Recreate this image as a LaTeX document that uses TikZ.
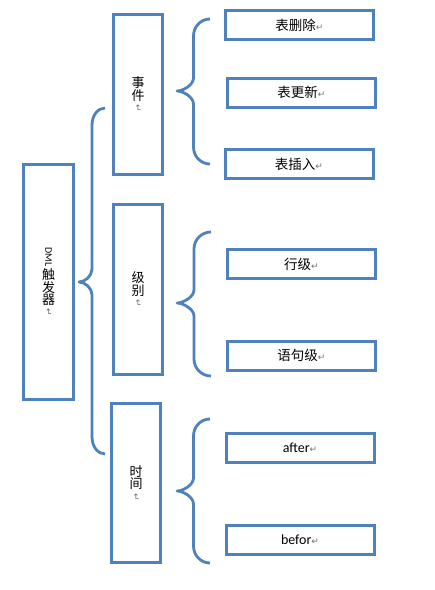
\documentclass[tikz,border=0pt]{standalone}
\usepackage{fontspec}
\usepackage{graphicx}
\setmainfont{Carlito}
\newfontfamily\cjk{Noto Sans CJK SC}
\newfontfamily\symfont{DejaVu Sans}
\usetikzlibrary{positioning, calc}

\definecolor{wordblue}{HTML}{4F81BD}
\newcommand{\parmark}{{\symfont\color{black!55}\fontsize{9}{9}\selectfont ↵}}
\newcommand{\vparmark}{\rotatebox{-90}{\parmark}}
% geschweifte Klammer im Word-Stil: oberes Ende, Spitze, unteres Ende
\newcommand{\wordbrace}[3]{%
    \draw[brace_line] let \p1=(#1), \p2=(#2), \p3=(#3),
        \n1={(\x1+\x2)/2}, \n2={(\x1-\x2)/2} in
        (\p1) .. controls ({\x1-0.55*\n2},\y1) and ({\n1},{\y1-7.5pt}) .. ({\n1},{\y1-17pt})
        -- ({\n1},{\y2+13pt}) .. controls ({\n1},{\y2+6pt}) and ({\x2+6pt},\y2) .. (\p2)
        .. controls ({\x2+6pt},\y2) and ({\n1},{\y2-6pt}) .. ({\n1},{\y2-13pt})
        -- ({\n1},{\y3+17pt}) .. controls ({\n1},{\y3+7.5pt}) and ({\x3-0.55*\n2},\y3) .. (\p3);}

\begin{document}
\begin{tikzpicture}[
    x=1pt, y=-1pt,
    box_line/.style={draw=wordblue, line width=3pt, inner sep=0pt},
    tall_box/.style={box_line, minimum width=49pt, align=center,
        font=\cjk\fontsize{13}{11.5}\selectfont},
    wide_box/.style={box_line, minimum width=148pt, minimum height=29pt,
        font=\cjk\fontsize{13.5}{14}\selectfont},
    latin_box/.style={wide_box, font=\fontsize{14}{14}\selectfont},
    brace_line/.style={draw=wordblue, line width=2.8pt, line join=round}
]
    \useasboundingbox[fill=white] (0,0) rectangle (435,590);

    % ======================================================================
    % WURZEL: DML-TRIGGER
    % ======================================================================
    \node[tall_box, minimum width=50pt, minimum height=235pt] (dml) at (48.5,282)
        {\rotatebox{-90}{\rmfamily\fontsize{10}{10}\selectfont DML}\\[1pt]触\\发\\器\\[-7pt]\vparmark};

    % Klammer zu den drei Kategorien
    \coordinate (root_top) at (105,108);
    \coordinate (root_tip) at (79,282);
    \coordinate (root_bot) at (105,454);
    \wordbrace{root_top}{root_tip}{root_bot}

    % ======================================================================
    % KATEGORIEN
    % ======================================================================
    \node[tall_box, minimum height=160pt] (event) at (138,94.5) {事\\件\\[-7pt]\vparmark};
    \node[tall_box, minimum height=170pt] (level) at (138,289.5) {级\\别\\[-7pt]\vparmark};
    \node[tall_box, minimum height=159pt] (timing) at (136,483) {时\\间\\[-7pt]\vparmark};

    % ======================================================================
    % EREIGNIS: DELETE / UPDATE / INSERT
    % ======================================================================
    \coordinate (event_top) at (210,19);
    \coordinate (event_tip) at (177,91);
    \coordinate (event_bot) at (210,164);
    \wordbrace{event_top}{event_tip}{event_bot}

    \node[wide_box] (del) at (299.5,25)  {表删除\parmark};
    \node[wide_box] (upd) at (301.5,92.5) {表更新\parmark};
    \node[wide_box] (ins) at (299,164)   {表插入\parmark};

    % ======================================================================
    % EBENE: ZEILE / ANWEISUNG
    % ======================================================================
    \coordinate (level_top) at (211,232);
    \coordinate (level_tip) at (177,303);
    \coordinate (level_bot) at (211,376);
    \wordbrace{level_top}{level_tip}{level_bot}

    \node[wide_box] (row)  at (301.5,264)   {行级\parmark};
    \node[wide_box] (stmt) at (301.5,355.5) {语句级\parmark};

    % ======================================================================
    % ZEITPUNKT: AFTER / BEFOR
    % ======================================================================
    \coordinate (timing_top) at (210,419);
    \coordinate (timing_tip) at (177,491);
    \coordinate (timing_bot) at (210,563);
    \wordbrace{timing_top}{timing_tip}{timing_bot}

    \node[latin_box] (after) at (300,448) {after\parmark};
    \node[latin_box] (befor) at (300,540) {befor\parmark};

\end{tikzpicture}
\end{document}
